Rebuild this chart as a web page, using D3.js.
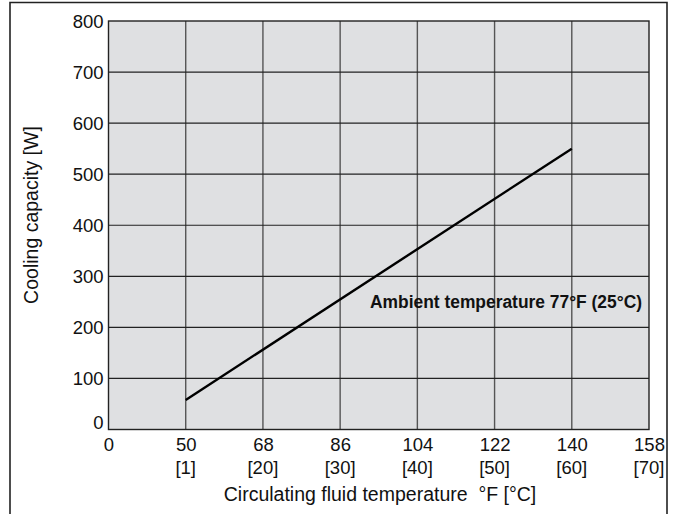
<!DOCTYPE html>
<html>
<head>
<meta charset="utf-8">
<script src="https://cdn.jsdelivr.net/npm/d3@7"></script>
<style>
  body { margin: 0; background: #fff; }
  svg text { font-family: "Liberation Sans", Arial, sans-serif; fill: #111; }
</style>
</head>
<body>
<svg id="mainSVG" width="676" height="514"></svg>
<script>
// axis ticks (deg F) and their deg C companions
var tempF = [0, 50, 68, 86, 104, 122, 140, 158];
var tempC = ["", "[1]", "[20]", "[30]", "[40]", "[50]", "[60]", "[70]"];
var capTicks = [0, 100, 200, 300, 400, 500, 600, 700, 800];

// cooling capacity line, ambient 77F
var lineF = [50, 140];
var lineW = [58, 550];

var f = { left: 108.5, right: 649, top: 21, bottom: 429.5 };

var svg = d3.select("#mainSVG");

// outer frame (open at the bottom)
svg.append("path")
  .attr("d", "M10,514 V2.5 H667 V514")
  .attr("fill", "none")
  .attr("stroke", "#222")
  .attr("stroke-width", 1.6);

// the F axis is broken: ticks are evenly spaced
var step = (f.right - f.left) / (tempF.length - 1);
var x = d3.scaleLinear()
  .domain(tempF)
  .range(tempF.map(function(d, i) { return f.left + i * step; }));

var y = d3.scaleLinear()
  .domain([0, 800])
  .range([f.bottom, f.top]);

svg.append("rect")
  .attr("x", f.left)
  .attr("y", f.top)
  .attr("width", f.right - f.left)
  .attr("height", f.bottom - f.top)
  .attr("fill", "#dfe0e2");

// grid
svg.append("g")
  .selectAll("line")
  .data(tempF.slice(1, -1))
  .enter().append("line")
  .attr("x1", function(d) { return x(d); })
  .attr("x2", function(d) { return x(d); })
  .attr("y1", f.top)
  .attr("y2", f.bottom)
  .attr("stroke", "#555")
  .attr("stroke-width", 1.4);

svg.append("g")
  .selectAll("line")
  .data(capTicks.slice(1, -1))
  .enter().append("line")
  .attr("x1", f.left)
  .attr("x2", f.right)
  .attr("y1", function(d) { return y(d); })
  .attr("y2", function(d) { return y(d); })
  .attr("stroke", "#222")
  .attr("stroke-width", 1.2);

svg.append("rect")
  .attr("x", f.left)
  .attr("y", f.top)
  .attr("width", f.right - f.left)
  .attr("height", f.bottom - f.top)
  .attr("fill", "none")
  .attr("stroke", "#222")
  .attr("stroke-width", 1.4);

// y axis labels
var yAxis = d3.axisLeft(y).tickValues(capTicks).tickSize(0).tickPadding(0);
var gy = svg.append("g")
  .attr("transform", "translate(" + (f.left - 5) + ",0)")
  .call(yAxis);
gy.select(".domain").remove();
gy.selectAll("text")
  .style("font-size", "18.5px")
  .attr("dy", "0.35em");
gy.selectAll(".tick")
  .filter(function(d) { return d === 0; })
  .select("text")
  .attr("dy", "-0.05em");

// x axis labels
var xAxis = d3.axisBottom(x).tickValues(tempF).tickSize(0).tickPadding(0);
var gx = svg.append("g")
  .attr("transform", "translate(0," + (f.bottom + 8) + ")")
  .call(xAxis);
gx.select(".domain").remove();
gx.selectAll("text")
  .style("font-size", "18.5px")
  .attr("dy", "0.71em");

svg.append("g")
  .selectAll("text")
  .data(tempF)
  .enter().append("text")
  .attr("x", function(d) { return x(d); })
  .attr("y", f.bottom + 44)
  .attr("text-anchor", "middle")
  .style("font-size", "18.5px")
  .text(function(d, i) { return tempC[i]; });

// axis titles
svg.append("text")
  .attr("transform", "translate(38,215) rotate(-90)")
  .attr("text-anchor", "middle")
  .style("font-size", "19.5px")
  .text("Cooling capacity [W]");

svg.append("text")
  .attr("x", 380)
  .attr("y", 501)
  .attr("text-anchor", "middle")
  .style("font-size", "19.5px")
  .style("white-space", "pre")
  .text("Circulating fluid temperature  \u00b0F [\u00b0C]");

// capacity line
var line = d3.line()
  .x(function(d) { return x(d[0]); })
  .y(function(d) { return y(d[1]); });

svg.append("path")
  .datum(d3.zip(lineF, lineW))
  .attr("d", line)
  .attr("fill", "none")
  .attr("stroke", "#000")
  .attr("stroke-width", 2.4);

svg.append("text")
  .attr("x", 370)
  .attr("y", 308)
  .style("font-size", "18px")
  .style("font-weight", "bold")
  .attr("textLength", 272)
  .attr("lengthAdjust", "spacingAndGlyphs")
  .text("Ambient temperature 77\u00b0F (25\u00b0C)");
</script>
</body>
</html>
